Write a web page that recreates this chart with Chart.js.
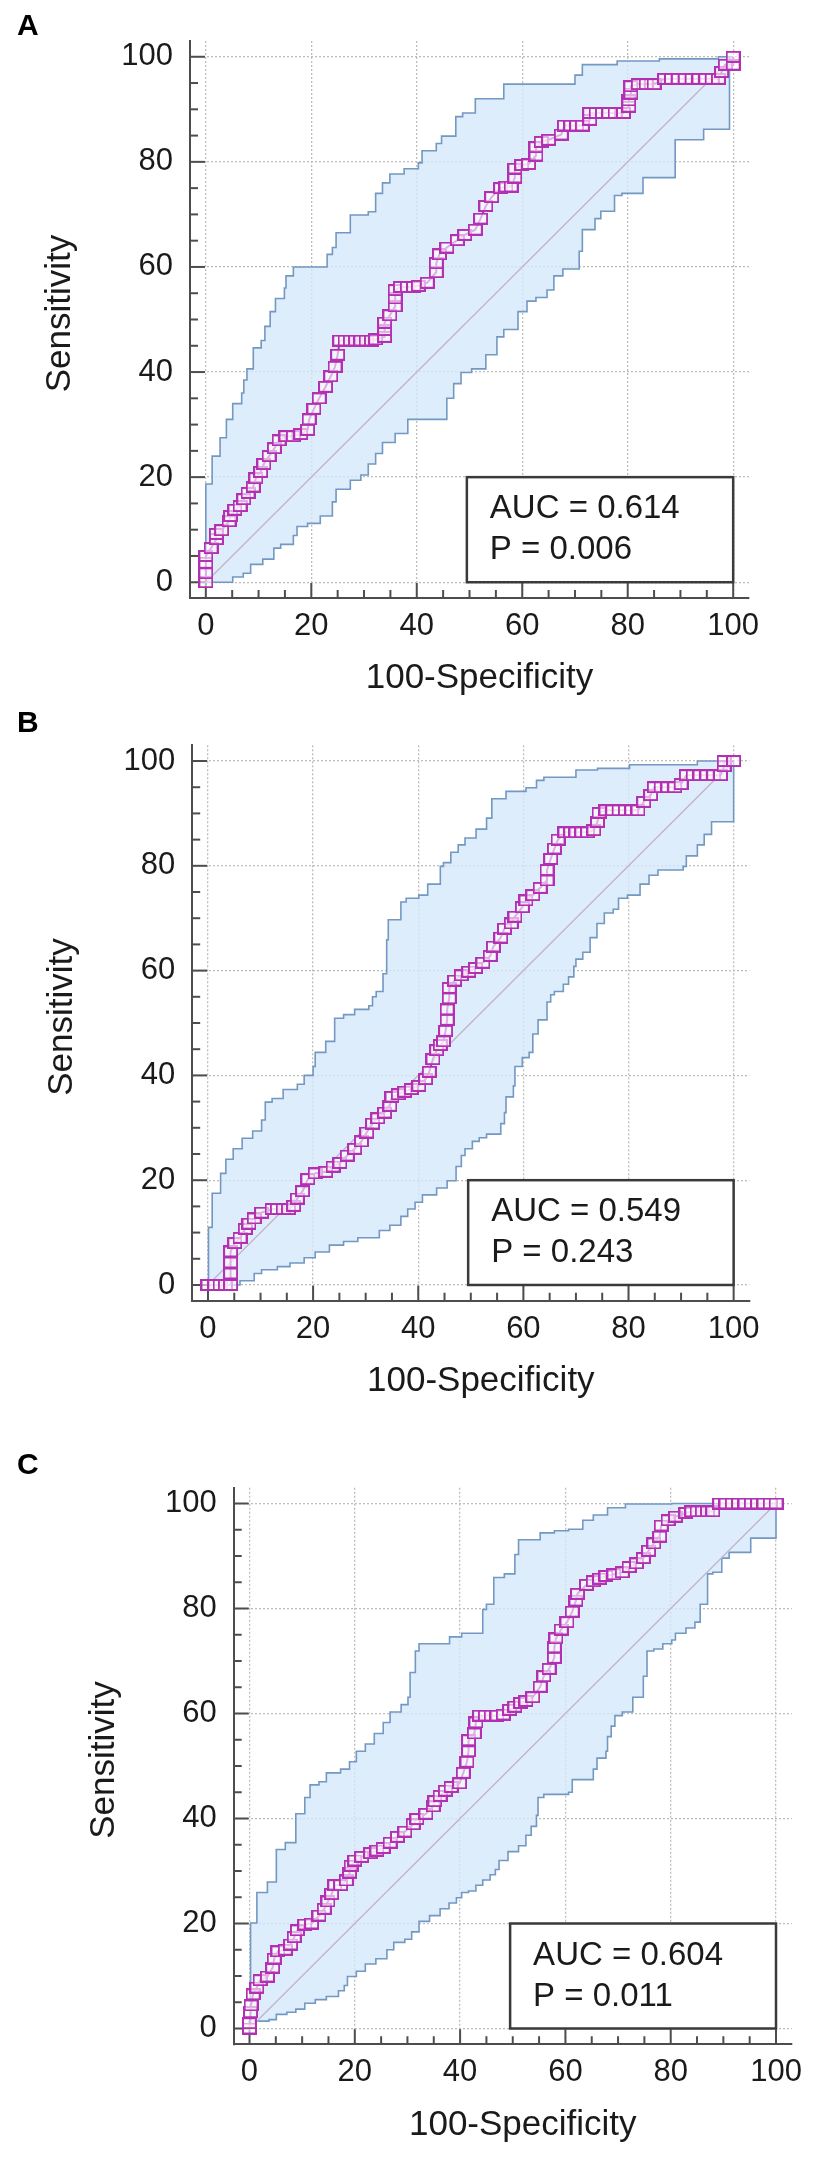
<!DOCTYPE html>
<html>
<head>
<meta charset="utf-8">
<title>ROC curves A, B, C</title>
<script src="https://cdn.jsdelivr.net/npm/chart.js@4.4.1/dist/chart.umd.min.js"></script>
<style>
  html, body { margin: 0; padding: 0; background: #fff; }
  body { width: 827px; height: 2168px; position: relative; overflow: hidden; }
  canvas { position: absolute; left: 0; display: block; }
</style>
</head>
<body>
<canvas id="panelA" width="827" height="700" style="top:0px"></canvas>
<canvas id="panelB" width="827" height="700" style="top:700px"></canvas>
<canvas id="panelC" width="827" height="768" style="top:1400px"></canvas>
<script>
// ---- data (100-Specificity vs Sensitivity) ----
const tickValues = [0, 20, 40, 60, 80, 100];
const panelLetters = ['A', 'B', 'C'];
const aucLabels = ['AUC = 0.614', 'AUC = 0.549', 'AUC = 0.604'];
const pLabels = ['P = 0.006', 'P = 0.243', 'P = 0.011'];
const diagonal = [[0, 0], [100, 100]];

const rocA = [[0,0],[0,1.7],[0,3.7],[0,5],[1,6.5],[2,8.2],[2,9.2],[3,9.9],[4.4,11.6],[4.7,12.6],[5.5,13.8],[6.5,14.5],
  [7.2,15.8],[8,17],[9,18.2],[9.5,19.8],[10.4,21],[11,22.5],[12,24],[13,25.5],[13.9,27],[15.2,27.8],[16.6,27.8],
  [18,28.2],[19.3,29],[19.6,31],[20.5,33],[21.5,35],[22.7,37.2],[23.7,39.2],[24.5,41],[25,43.3],[25.4,46],[26.4,46],
  [27.4,46],[28.4,46],[29.4,46],[30.4,46],[31.4,46],[32.2,46.2],[33.9,46.7],[33.9,48],[33.9,49.4],[34.9,50.8],
  [35.9,52.5],[35.9,54],[35.9,55.6],[36.9,56.2],[38.2,56.2],[39.4,56.2],[40.3,56.4],[42,57],[43.7,59],[43.7,60.7],
  [44.3,62.4],[45.7,63.7],[47.7,65.1],[49.1,66.1],[51.1,67.1],[52.1,69.2],[53.1,71.6],[54.2,73.3],[55.9,75],
  [56.9,75.3],[57.9,75.3],[58.6,77],[58.6,78.7],[59.9,79.4],[61.2,79.6],[62.6,81.2],[62.6,82.8],[63.6,83.8],
  [65,84.2],[67.4,85.2],[68,86.9],[69.2,86.9],[70.3,86.9],[71.4,86.9],[72.8,88],[72.8,89.3],[74,89.3],[75.2,89.3],
  [76.4,89.3],[77.6,89.3],[79.2,89.3],[80.2,90.5],[80.2,91.7],[80.6,93],[80.6,94.4],[82,94.8],[83.5,94.8],[85,94.8],
  [87,95.8],[88.3,95.8],[89.6,95.8],[90.9,95.8],[92.2,95.8],[93.5,95.8],[94.8,95.8],[96,95.8],[97.2,95.8],
  [97.8,97.1],[98.5,98.5],[100,98.5],[100,100]];
const upperA = [[0,0],[0,18.7],[1.2,24],[2.7,27.5],[3.9,31],[5.1,34],[6.8,36],[7.2,38.5],[7.8,40.6],[9,44.6],
  [10.5,46],[11.2,48.7],[12.2,51.5],[13.2,54],[14.9,56],[15.2,58.3],[16.6,60],[23,62.4],[24,63.7],[24.7,66.5],
  [27.4,69.9],[30.8,70.5],[32.2,74],[33.5,76],[34.9,77.7],[37.6,78.7],[40.3,79.8],[41,82.1],[43.7,83.5],
  [44.7,84.9],[47.4,88.6],[48.7,89.3],[51.1,92],[56.5,94.8],[70,96.5],[71.4,98.5],[78,99.2],[86,99.6],
  [97.2,100],[100,100]];
const lowerA = [[0,0],[5.1,1],[7.1,1.7],[8.5,3.4],[10.8,4.4],[12.9,6.5],[14.2,7.2],[16.6,8.9],[17.3,10.6],
  [19.3,11.2],[21.7,12.6],[24,15.3],[24.7,17.7],[27.4,19.4],[29.4,20.4],[30.8,22.5],[32.2,24.5],[33.5,26.6],
  [35.9,28.3],[38.3,31],[45.7,35],[47,37.8],[48.4,39.9],[50.4,40.6],[53.1,43.3],[55.2,46.7],[56.5,48.1],
  [59.2,51.5],[60.9,53.5],[62.6,54.2],[64.7,55.6],[66,58.3],[67.7,59.6],[70.8,63],[71.4,67.1],[73.8,69.2],
  [74.9,70.6],[77.5,73.6],[78.9,74],[82.9,77],[89,84.2],[94.4,86.2],[99.3,100],[100,100]];

const rocB = [[0,0],[1.3,0],[2.3,0],[3.3,0],[4.3,0],[4.3,2.2],[4.3,4.3],[4.3,6.4],[5.1,8],[6.1,9],[7.1,10.7],
  [7.8,11.7],[8.8,12.7],[10.2,13.8],[12.2,14.5],[13.2,14.5],[14.3,14.5],[15.3,14.5],[16.3,15.1],[17,16.5],
  [18,17.9],[19,20.2],[20.4,21.3],[22.4,21.6],[23.8,22.6],[25.1,23.3],[26.5,24.7],[27.9,26],[29.2,27.4],
  [30.2,29.1],[31.3,30.8],[32.3,31.8],[33.6,32.9],[34.6,34.2],[35,35.9],[36.2,36.4],[37.4,36.9],[38.7,37.4],
  [40.1,38],[41.4,39.3],[42.1,40.7],[42.8,43.1],[43.5,44.8],[44.2,45.8],[44.8,46.5],[45.2,48.5],[45.5,50.6],
  [45.5,52.6],[45.9,54.7],[45.9,56.7],[46.9,58.1],[48.2,59.1],[49.6,59.8],[50.9,60.5],[52.3,61.5],[53.7,62.8],
  [54.3,64.6],[55.7,66.3],[56.4,68],[57.7,69],[58.4,70.3],[59.8,72.1],[60.5,73.4],[61.8,74.4],[63.2,75.8],
  [64.5,77.2],[64.5,79.2],[65.2,81.3],[65.9,83.3],[66.6,85],[67.9,86.4],[69,86.4],[70,86.4],[71.1,86.4],
  [72.2,86.4],[73.4,86.8],[74.1,88.4],[74.4,90.1],[75.7,90.6],[77,90.6],[78.2,90.6],[79.4,90.6],[80.6,90.6],
  [81.8,90.6],[82.9,92.2],[84.2,93.5],[84.9,95],[86.2,95],[87.5,95],[88.8,95],[90,95.6],[91,97.3],[92.3,97.3],
  [93.6,97.3],[94.9,97.3],[96.2,97.3],[97.5,97.3],[98.2,99],[98.2,100],[100,100]];
const upperB = [[0,0],[0.1,11],[0.8,17.5],[2.4,21.3],[3.4,24],[4.8,26],[6.5,28],[8.5,29.4],[10.2,31.5],
  [10.9,34.9],[12.2,35.6],[14.3,37.3],[17,38.3],[18.3,40],[20,41.7],[20.4,44.4],[22.4,46.5],[24.1,50.9],
  [25.8,51.6],[27.9,52.6],[30.6,53.3],[31.3,55],[32,56],[33.3,59.4],[34,65.9],[34.3,69.7],[36.7,73.1],
  [37.7,73.8],[40.1,74.4],[41.8,76.5],[44.2,79.9],[44.8,80.6],[46.2,82.6],[47.6,84],[48.9,85.3],[51,87],
  [53,89.1],[54,92.8],[56.7,94.2],[60.5,94.9],[62.5,96.3],[63.9,96.9],[70,98.3],[74.1,98.6],[80.2,99.3],
  [93.1,100],[100,100]];
const lowerB = [[0,0],[6.1,0.8],[8.8,2.2],[10.2,2.9],[13.2,3.5],[15.6,4.2],[18.3,5.2],[20.4,6.3],[23.1,7.6],
  [25.8,8.3],[28.5,9],[32.6,10.4],[34.6,11.4],[36.7,13.1],[38,14.5],[39.4,15.8],[40.8,17.2],[43.5,18.5],
  [45.5,19.9],[47.2,22.6],[48.2,24.7],[48.9,26],[50.3,27.4],[51.6,28.1],[53,28.8],[55.7,30.8],[56.4,32.9],
  [56.7,35.9],[58.1,38],[58.4,41.7],[59.8,43.4],[61.1,44.4],[61.8,47.9],[62.8,50.6],[64.5,54],[65.2,55.4],
  [65.9,56],[67.6,57.4],[68.6,58.8],[69.6,60.8],[70,62.2],[71.3,63.5],[72.7,66.3],[74,69],[75.4,71],[77.1,71.7],
  [78.1,73.8],[79.8,74.4],[82.2,76.5],[83.9,78.2],[85.6,79.2],[90.4,79.9],[91,81.9],[93.1,84],[94.4,86],
  [95.8,88.4],[100,100]];

const rocC = [[0,0],[0,1],[0.2,3.1],[0.3,4.4],[0.7,6.5],[1.4,7.8],[2,9.2],[3.4,9.9],[4.4,11.6],[4.7,13.3],
  [5.4,14.7],[6.8,15],[7.8,16],[8.5,17.4],[9.1,18.7],[10.5,19.8],[11.8,20],[13.2,21.5],[14.2,22.8],[14.9,24.2],
  [15.6,25.6],[16.2,27.3],[17.3,27.3],[18.4,28.2],[19,29.7],[19.3,31],[20,32],[21.3,32.7],[23,33.4],[24.2,33.9],
  [25.4,34.4],[26.7,35.4],[28.1,36.5],[29.5,37.5],[31.1,38.9],[31.8,39.9],[33.5,40.9],[34.9,42.3],[35.2,43.3],
  [36.2,44.3],[37.2,45.3],[38.3,46],[39.9,46.7],[40.6,48.7],[41.3,50.8],[41.6,52.8],[41.6,54.9],[42.7,56.2],
  [43,58.3],[43.7,59.6],[44.8,59.6],[45.9,59.6],[47,59.6],[48.2,59.8],[49.4,60.7],[50.4,61.3],[51.5,62],
  [52.5,62.4],[53.8,63.1],[55.2,65.1],[55.9,67.1],[56.9,68.5],[57.9,70.6],[57.9,72.6],[58.2,74.3],[59.2,76],
  [60.3,77.4],[61.3,79.4],[62,81.5],[62.3,82.8],[64,84.5],[65.3,85.2],[66.5,85.7],[67.7,86.2],[69.2,86.5],
  [70.8,86.9],[72.1,87.9],[73.5,88.6],[74.8,89.6],[75.8,91],[76.8,92.4],[77.9,93.7],[78.2,95.8],[79.5,96.8],
  [80.9,97.5],[82.9,98.2],[84,98.5],[85,98.5],[86,98.5],[87,98.5],[88,98.5],[89.3,100],[90.5,100],[91.7,100],
  [92.9,100],[94.1,100],[95.3,100],[96.5,100],[97.7,100],[98.9,100],[100,100]];
const upperC = [[0,0],[0.2,20.1],[1.4,25.9],[3.4,27.9],[5.1,34.1],[6.8,35.4],[8.8,40.9],[10.5,44],[11.5,46.4],
  [13.2,47],[14.6,48.7],[17.3,49.4],[19,50.8],[20.3,52.8],[22,54.2],[23.7,56.2],[25.4,58.3],[26.7,60.3],
  [28.8,61.7],[30.1,63.1],[30.5,67.8],[31.5,71.9],[32.2,73.3],[38,74.6],[40.3,75.3],[44.3,79.8],[45,80.8],
  [46.4,85.9],[48.4,86.6],[50.4,90.3],[51.1,93.1],[55.2,94.4],[57.9,94.8],[60.6,95.1],[63.3,96.8],[65.3,97.8],
  [68,99.2],[71.4,99.9],[80.2,100],[100,100]];
const lowerC = [[0,0],[1,1.4],[3.7,1.7],[5.1,2.7],[7.1,3.1],[8.8,3.7],[10.5,4.8],[12.5,5.5],[14.6,6.1],
  [16.9,7.2],[18,8.2],[18.6,9.9],[20.3,10.9],[22,12.3],[24,13.3],[26.1,15],[27.4,16.4],[29.5,17],[30.8,18.4],
  [32.2,20.4],[34.2,21.5],[36.2,22.8],[37.9,23.9],[39.3,24.9],[40.3,25.9],[41.6,26.2],[43,27.3],[44.3,28.3],
  [45.7,29.3],[46.7,30.3],[47.4,32],[49.1,33.7],[51.1,34.8],[52.5,36.8],[53.5,38.5],[54.5,40.6],[54.8,44],
  [55.9,44.6],[60.6,45],[61.3,47.4],[65.3,49.4],[66,51.5],[67.7,52.8],[68,55.6],[68.7,57.6],[69.4,59.6],
  [70.8,60.3],[72.8,63.1],[74.8,67.1],[75.5,71.9],[76.8,72.3],[78.5,73.3],[80.2,74],[80.9,75.3],[82.9,76.3],
  [84.6,77.4],[85.6,80.8],[87,86.6],[88,86.9],[89.7,89.6],[91.1,90.7],[95.2,93.4],[100,100]];

// ---- look ----
const FONT = '"Liberation Sans", Arial, Helvetica, sans-serif';
const INK = '#1a1a1a';
const AXIS = '#4d4d4d';
const ROC = '#b330b3';
const BAND = '#7398c2';

// chart area placement inside each canvas
const panels = [
  { id: 'panelA', roc: rocA, upper: upperA, lower: lowerA, left: 190, top: 41, right: 78, bottom: 12, letterY: 35 },
  { id: 'panelB', roc: rocB, upper: upperB, lower: lowerB, left: 192.2, top: 45.3, right: 77.6, bottom: 9.3, letterY: 32 },
  { id: 'panelC', roc: rocC, upper: upperC, lower: lowerC, left: 233.7, top: 87.75, right: 35.2, bottom: 33.75, letterY: 74 }
];
const X_AXIS_H = 90;

const toXY = pts => pts.map(([x, y]) => ({ x, y }));

// open square marker, a little wider than tall like the original export
function makeMarker() {
  const c = document.createElement('canvas');
  c.width = 15;
  c.height = 12;
  const g = c.getContext('2d');
  g.fillStyle = 'rgba(255,255,255,0.6)';
  g.fillRect(1, 1, 13, 10);
  g.strokeStyle = ROC;
  g.lineWidth = 2;
  g.strokeRect(1, 1, 13, 10);
  return c;
}
const marker = makeMarker();

// inward major/minor ticks, AUC box, axis titles, panel letter
const rocDecor = {
  id: 'rocDecor',
  beforeDatasetsDraw(chart) {
    const { ctx, chartArea: a, scales: { x, y } } = chart;
    ctx.save();
    ctx.strokeStyle = AXIS;
    ctx.lineWidth = 2;
    for (let v = 0; v <= 100; v += 5) {
      const len = v % 20 === 0 ? 15 : 8;
      const py = y.getPixelForValue(v);
      ctx.beginPath(); ctx.moveTo(a.left, py); ctx.lineTo(a.left + len, py); ctx.stroke();
      const px = x.getPixelForValue(v);
      ctx.beginPath(); ctx.moveTo(px, a.bottom); ctx.lineTo(px, a.bottom - len); ctx.stroke();
    }
    ctx.restore();
  },
  afterDatasetsDraw(chart, args, opts) {
    const { ctx, chartArea: a, scales: { x, y } } = chart;
    const i = opts.index;
    ctx.save();
    // AUC box
    const bx1 = x.getPixelForValue(49.5), bx2 = x.getPixelForValue(100);
    const by1 = y.getPixelForValue(20), by2 = y.getPixelForValue(0);
    ctx.fillStyle = '#fff';
    ctx.fillRect(bx1, by1, bx2 - bx1, by2 - by1);
    ctx.strokeStyle = '#3a3a3a';
    ctx.lineWidth = 2.5;
    ctx.strokeRect(bx1, by1, bx2 - bx1, by2 - by1);
    ctx.fillStyle = INK;
    ctx.font = '33px ' + FONT;
    ctx.textAlign = 'left';
    ctx.textBaseline = 'alphabetic';
    ctx.fillText(aucLabels[i], bx1 + 23, by1 + 41);
    ctx.fillText(pLabels[i], bx1 + 23, by1 + 82);

    // axis titles
    const x0 = x.getPixelForValue(0), x100 = x.getPixelForValue(100);
    const y0 = y.getPixelForValue(0), y100 = y.getPixelForValue(100);
    ctx.font = '35px ' + FONT;
    ctx.textAlign = 'center';
    ctx.fillText('100-Specificity', (x0 + x100) / 2 + 10, y0 + 106);
    ctx.save();
    ctx.translate(a.left - 120, (y0 + y100) / 2 - 6);
    ctx.rotate(-Math.PI / 2);
    ctx.fillText('Sensitivity', 0, 0);
    ctx.restore();

    // panel letter
    ctx.font = 'bold 30px ' + FONT;
    ctx.textAlign = 'left';
    ctx.fillStyle = '#000';
    ctx.fillText(panelLetters[i], 17, opts.letterY);
    ctx.restore();
  }
};

panels.forEach((p, i) => {
  const axisCommon = {
    type: 'linear',
    min: -3,
    max: 103,
    afterBuildTicks: s => { s.ticks = tickValues.map(v => ({ value: v })); },
    grid: { color: '#bdbdbd', lineWidth: 1.3, drawTicks: false },
    border: { display: true, color: AXIS, width: 2, dash: [2, 2] },
    ticks: { color: INK, font: { family: FONT, size: 31 }, autoSkip: false, maxRotation: 0 }
  };

  new Chart(document.getElementById(p.id), {
    type: 'scatter',
    data: {
      datasets: [
        {
          label: 'ROC',
          data: toXY(p.roc),
          showLine: true,
          borderColor: ROC,
          borderWidth: 2,
          pointStyle: marker,
          pointRadius: 7
        },
        {
          label: 'Reference',
          data: toXY(diagonal),
          showLine: true,
          borderColor: '#c2b2cc',
          borderWidth: 1.3,
          pointRadius: 0
        },
        {
          label: 'Upper 95% CI',
          data: toXY(p.upper),
          showLine: true,
          stepped: 'before',
          borderColor: BAND,
          borderWidth: 1.6,
          pointRadius: 0,
          fill: '+1',
          backgroundColor: 'rgba(212,232,250,0.78)'
        },
        {
          label: 'Lower 95% CI',
          data: toXY(p.lower),
          showLine: true,
          stepped: 'before',
          borderColor: BAND,
          borderWidth: 1.6,
          pointRadius: 0,
          fill: false
        }
      ]
    },
    options: {
      responsive: false,
      animation: false,
      devicePixelRatio: 1,
      layout: { padding: { left: 0, top: p.top, right: p.right, bottom: p.bottom } },
      scales: {
        x: Object.assign({}, axisCommon, {
          afterFit: s => { s.height = X_AXIS_H; },
          ticks: Object.assign({}, axisCommon.ticks, { padding: 10 })
        }),
        y: Object.assign({}, axisCommon, {
          afterFit: s => { s.width = p.left; },
          ticks: Object.assign({}, axisCommon.ticks, { padding: 17 })
        })
      },
      plugins: {
        legend: { display: false },
        tooltip: { enabled: false },
        filler: { drawTime: 'beforeDatasetsDraw' },
        rocDecor: { index: i, letterY: p.letterY }
      }
    },
    plugins: [rocDecor]
  });
});
</script>
</body>
</html>
